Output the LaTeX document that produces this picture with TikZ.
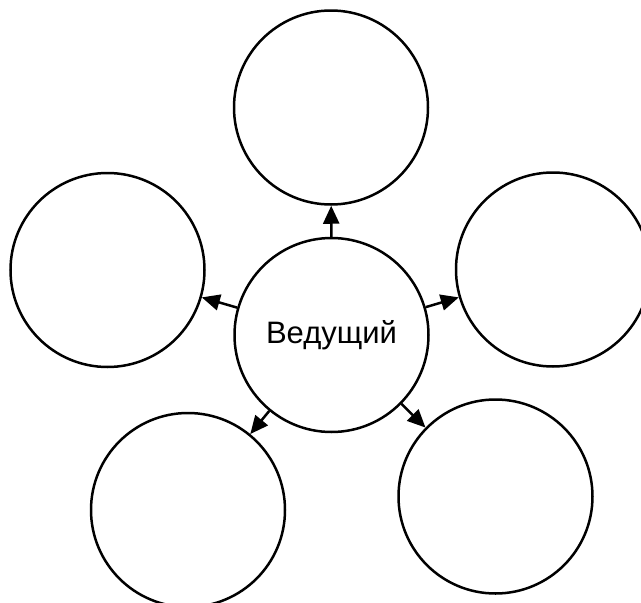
\documentclass[tikz,border=0pt]{standalone}
\usepackage{fontspec}
\setmainfont{Liberation Sans}
\usepackage{tikz}
\usetikzlibrary{arrows.meta, positioning}

\begin{document}
\begin{tikzpicture} [
        x = 1pt, y = -1pt,
        vertex/.style = {circle, draw, line width=2.5pt, minimum size=194pt, inner sep=0pt, font=\fontsize{31}{36}\selectfont},
        edge/.style = {draw, line width=2.5pt, -{Triangle[length=18pt, width=16pt]}}
    ]
    \useasboundingbox (0,0) rectangle (641,603);

    \node[vertex] (0) at (331.5,335) {Ведущий};
    \node[vertex] (1) at (331,107.5) {};
    \node[vertex] (2) at (107.5,270) {};
    \node[vertex] (3) at (553,269.5) {};
    \node[vertex] (4) at (188,510) {};
    \node[vertex] (5) at (495.5,496.5) {};

    \path[edge] (0) edge (1) edge (2) edge (3) edge (4) edge (5);

\end{tikzpicture}
\end{document}
